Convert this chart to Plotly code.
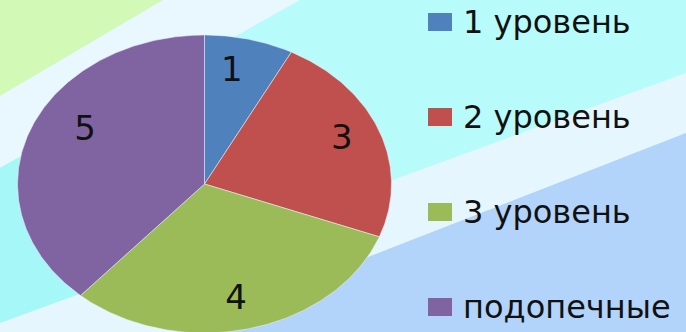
import numpy as np
import plotly.graph_objects as go

# Chart data
categories = ["1 уровень", "2 уровень", "3 уровень", "подопечные"]
values = [1, 3, 4, 5]
colors = ["#4f81bd", "#c0504d", "#9bbb59", "#8064a2"]

W, H = 686, 332
# Pie ellipse in page pixels: centre and radii
CX, CY, RX, RY = 204.5, 184.0, 187.0, 149.0
# Where each value label sits inside its wedge: share of the wedge's sweep, and radius
LABEL_SWEEP = [0.40, 0.49, 0.515, 0.56]
LABEL_R = [0.76, 0.79, 0.80, 0.73]

FONT = "DejaVu Sans"
TEXT_COLOR = "#111111"


def px(x, y):
    """Page pixel -> paper coordinates."""
    return x / W, 1 - y / H


def path(points):
    pts = [px(x, y) for x, y in points]
    return "M " + " L ".join(f"{a:.5f},{b:.5f}" for a, b in pts) + " Z"


fig = go.Figure()

# Pie wedges, clockwise from 12 o'clock
total = sum(values)
start = 0.0
for cat, v, col in zip(categories, values, colors):
    a0 = start / total * 2 * np.pi
    a1 = (start + v) / total * 2 * np.pi
    t = np.linspace(a0, a1, max(int(v * 40), 12))
    xs = np.concatenate([[0.0], np.sin(t), [0.0]])
    ys = np.concatenate([[0.0], np.cos(t), [0.0]])
    fig.add_trace(go.Scatter(
        x=xs, y=ys, mode="lines", fill="toself", fillcolor=col,
        line=dict(color="rgba(235,240,250,0.55)", width=1),
        name=cat, hoverinfo="skip", showlegend=False,
    ))
    start += v

# Value labels inside each wedge
start = 0.0
lx, ly, lt = [], [], []
for v, f, r in zip(values, LABEL_SWEEP, LABEL_R):
    ang = (start + v * f) / total * 2 * np.pi
    lx.append(r * np.sin(ang))
    ly.append(r * np.cos(ang))
    lt.append(str(v))
    start += v
fig.add_trace(go.Scatter(
    x=lx, y=ly, text=lt, mode="text",
    textfont=dict(family=FONT, size=34, color=TEXT_COLOR),
    hoverinfo="skip", showlegend=False,
))

# Background bands
bands = [
    ([(0, 0), (163, 0), (0, 96)], "#d2fab6"),
    ([(163, 0), (300, 0), (0, 168), (0, 96)], "#e8f8fe"),
    ([(0, 168), (150, 84), (150, 300), (0, 323)], "#a6f7f8"),
    ([(0, 323), (686, 73), (686, 133), (176, 332), (0, 332)], "#e6f6fe"),
    ([(176, 332), (686, 133), (686, 332)], "#b2d3fa"),
]
shapes = []
for pts, col in bands:
    shapes.append(dict(type="path", xref="paper", yref="paper", path=path(pts),
                       fillcolor=col, line=dict(width=0), layer="below"))

# Legend: swatches and names
annotations = []
row_y = [22, 117, 212, 307]
for cat, col, yc in zip(categories, colors, row_y):
    x0, y0 = px(428, yc - 9)
    x1, y1 = px(452, yc + 9)
    shapes.append(dict(type="rect", xref="paper", yref="paper",
                       x0=x0, x1=x1, y0=y1, y1=y0,
                       fillcolor=col, line=dict(width=0), layer="above"))
    ax, ay = px(461, yc)
    annotations.append(dict(text=cat, xref="paper", yref="paper", x=ax, y=ay,
                            xanchor="left", yanchor="middle", showarrow=False,
                            font=dict(family=FONT, size=32, color=TEXT_COLOR)))

fig.update_layout(
    width=W, height=H,
    margin=dict(l=0, r=0, t=0, b=0),
    paper_bgcolor="#b8fbfb",
    plot_bgcolor="rgba(0,0,0,0)",
    shapes=shapes,
    annotations=annotations,
    showlegend=False,
    xaxis=dict(range=[(0 - CX) / RX, (W - CX) / RX], visible=False, fixedrange=True),
    yaxis=dict(range=[(CY - H) / RY, CY / RY], visible=False, fixedrange=True),
)

fig.write_html("out.html", config={"displayModeBar": False})
